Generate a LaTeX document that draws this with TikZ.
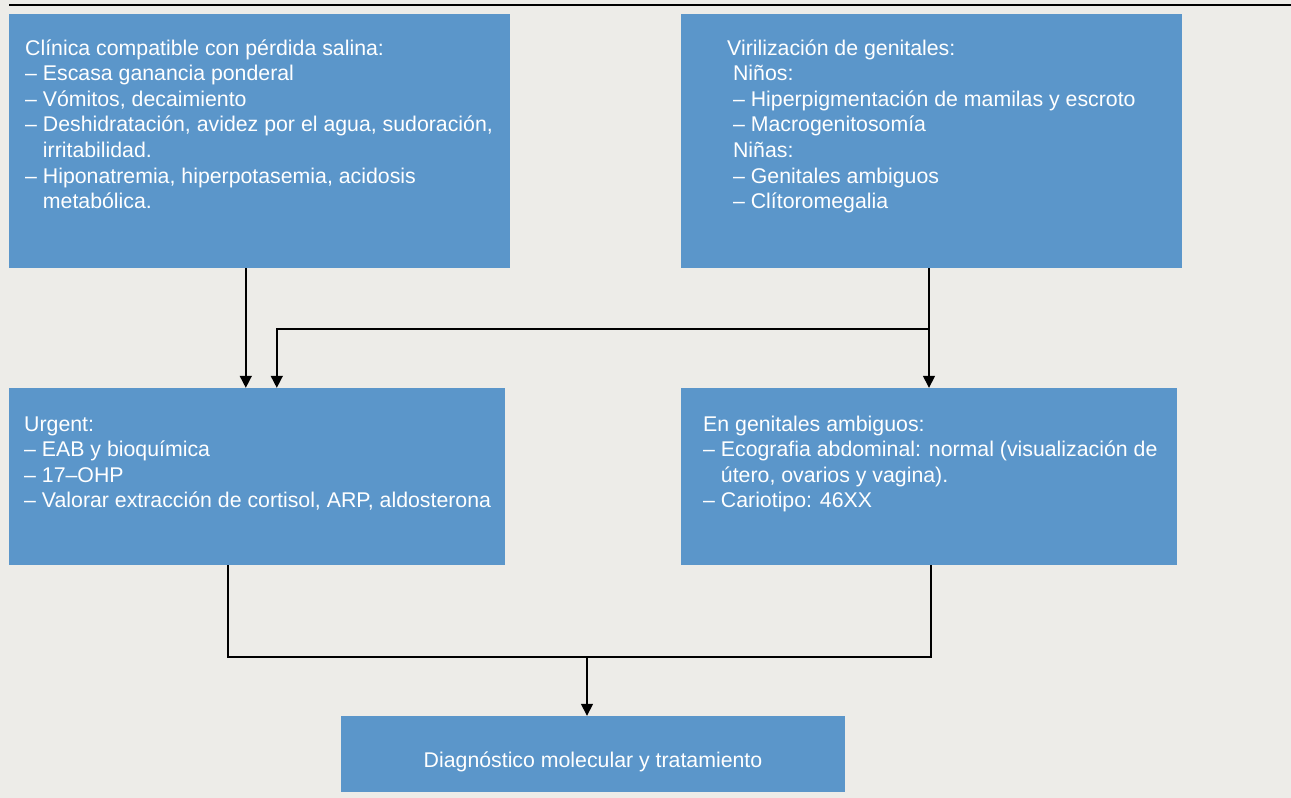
\documentclass[tikz,border=0pt]{standalone}
\usepackage{fontspec}
\setmainfont{Liberation Sans}
\usetikzlibrary{arrows.meta,calc}
\definecolor{bg}{RGB}{237,236,232}
\definecolor{boxblue}{RGB}{91,150,202}
\tikzset{
  box/.style={draw=none,fill=boxblue,rectangle,inner sep=0pt},
  txt/.style={anchor=base west,inner sep=0pt,text=white,font=\fontsize{21.3}{25.6}\selectfont},
  conn/.style={line width=1.5pt,draw=black},
  arr/.style={conn,-{Triangle[length=12pt,width=12pt]}}
}
\begin{document}
\begin{tikzpicture}[x=1pt,y=-1pt]
\fill[bg] (0,0) rectangle (1291,798);
\useasboundingbox (0,0) rectangle (1291,798);
\coordinate (ruleL) at (9,5);
\coordinate (ruleR) at (1291,5);
\draw[line width=2.5pt] (ruleL) -- (ruleR);
% boxes
\node[box,minimum width=501pt,minimum height=254pt] (boxA) at (259.5,141) {};
\node[box,minimum width=501pt,minimum height=254pt] (boxB) at (931.5,141) {};
\node[box,minimum width=496pt,minimum height=177pt] (boxC) at (257,476.5) {};
\node[box,minimum width=496pt,minimum height=177pt] (boxD) at (929,476.5) {};
\node[box,minimum width=504pt,minimum height=76pt] (boxE) at (593,754) {};
% texts
\foreach \t [count=\i] in {
  {Clínica compatible con pérdida salina:},
  {– Escasa ganancia ponderal},
  {– Vómitos, decaimiento},
  {– Deshidratación, avidez por el agua, sudoración,},
  {\phantom{– }irritabilidad.},
  {– Hiponatremia, hiperpotasemia, acidosis},
  {\phantom{– }metabólica.}}
  \node[txt] (tA\i) at (25,{55+25.6*(\i-1)}) {\t};
\foreach \t [count=\i] in {
  {Virilización de genitales:},
  {\hspace*{5.9pt}Niños:},
  {\hspace*{5.9pt}– Hiperpigmentación de mamilas y escroto},
  {\hspace*{5.9pt}– Macrogenitosomía},
  {\hspace*{5.9pt}Niñas:},
  {\hspace*{5.9pt}– Genitales ambiguos},
  {\hspace*{5.9pt}– Clítoromegalia}}
  \node[txt] (tB\i) at (727,{55+25.6*(\i-1)}) {\t};
\foreach \t [count=\i] in {
  {Urgent:},
  {– EAB y bioquímica},
  {– 17–OHP},
  {– Valorar extracción de cortisol, ARP, aldosterona}}
  \node[txt] (tC\i) at (24,{431+25.6*(\i-1)}) {\t};
\foreach \t [count=\i] in {
  {En genitales ambiguos:},
  {– Ecografia abdominal: normal (visualización de},
  {\phantom{– }útero, ovarios y vagina).},
  {– Cariotipo: 46XX}}
  \node[txt] (tD\i) at (703,{431+25.6*(\i-1)}) {\t};
\node[txt,anchor=base] (tE) at (boxE.center |- 0,767) {Diagnóstico molecular y tratamiento};
% connectors
\coordinate (aOut) at ([xshift=237pt]boxA.south west);
\coordinate (cIn1) at ([xshift=237pt]boxC.north west);
\coordinate (cIn2) at ([xshift=268pt]boxC.north west);
\coordinate (bOut) at (boxD.north |- boxB.south);
\coordinate (j1) at (boxD.north |- 0,329);
\draw[arr] (aOut) -- (cIn1);
\draw[arr] (bOut) -- (boxD.north);
\draw[arr] (j1) -| (cIn2);
\coordinate (cOut) at ([xshift=-29pt]boxC.south);
\coordinate (dOut) at ([xshift=2pt]boxD.south);
\coordinate (j2) at (587,657);
\coordinate (eIn) at (boxE.north -| j2);
\draw[conn] (cOut) |- (j2) -| (dOut);
\draw[arr] (j2) -- (eIn);
\end{tikzpicture}
\end{document}
